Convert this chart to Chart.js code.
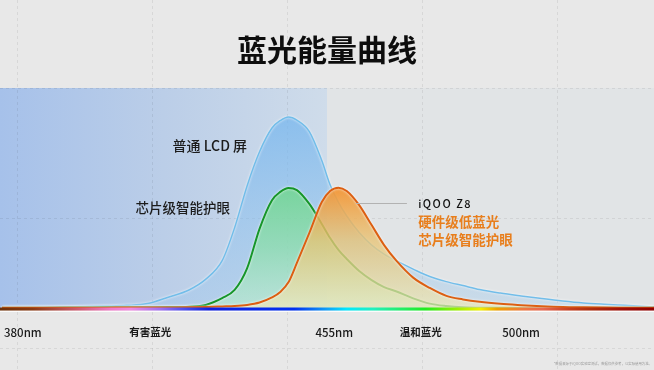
<!DOCTYPE html>
<html>
<head>
<meta charset="utf-8">
<script src="https://cdn.jsdelivr.net/npm/chart.js@4"></script>
<style>
html,body{margin:0;padding:0;background:#e8e8e8;overflow:hidden}
#c{display:block}
</style>
</head>
<body>
<canvas id="c" width="654" height="370"></canvas>
<script>
// ---- data (wavelength in nm, relative energy 0-100) ----
const wavelengths = [375,380,385,390,395,400,405,410,415,420,424,428,431,434,437,440,442,444,446,449,452,454,456,458,461,464,467,470,474,478,482,486,490,495,500,505,510,515,520,525,532];
const lcdEnergy   = [0.1,0.2,0.3,0.5,0.7,0.9,1.2,2.0,4.9,8.2,13.0,21.5,36.5,55.5,71.0,81.8,85.2,86.8,85.4,80.2,67.0,56.0,48.0,41.8,34.3,28.6,24.5,21.4,17.7,14.3,12.0,10.2,8.4,6.8,5.5,4.3,3.2,2.3,1.7,1.2,0.5];
const chipEnergy  = [0.1,0.1,0.15,0.2,0.25,0.3,0.3,0.35,0.4,0.6,1.4,4.5,8.2,18.0,36.0,49.0,52.8,54.6,53.6,47.3,38.2,31.8,26.4,22.3,16.8,12.7,9.5,7.5,4.4,2.0,0.9,0.3,0.15,0.1,0.1,0.1,0.1,0.1,0.1,0.1,0.1];
const iqooEnergy  = [0.1,0.1,0.1,0.1,0.15,0.15,0.2,0.2,0.25,0.3,0.45,0.7,0.9,1.4,2.5,4.8,7.3,11.8,20.5,34.1,48.2,53.2,54.7,53.2,46.8,37.7,28.6,21.4,13.8,9.1,5.5,3.9,2.8,1.9,1.3,0.8,0.45,0.3,0.2,0.15,0.1];
const seriesNames = ['iQOO Z8 硬件级低蓝光', '芯片级智能护眼', '普通 LCD 屏'];
const tickWavelengths = [380, 410.7, 455, 475.8, 500];
const tickLabels = ['380nm', '有害蓝光', '455nm', '温和蓝光', '500nm'];
const harmfulEdgeNm = 453.25;

const FONT = "'Noto Sans CJK SC', 'Noto Sans', sans-serif";

function vGrad(topValue, stops, fallback) {
  return (c) => {
    const ch = c.chart;
    if (!ch.chartArea) return fallback;
    const ys = ch.scales.y;
    const g = ch.ctx.createLinearGradient(0, ys.getPixelForValue(topValue), 0, ys.getPixelForValue(0));
    stops.forEach(s => g.addColorStop(s[0], s[1]));
    return g;
  };
}

const bgPlugin = {
  id: 'bg',
  beforeDraw(chart) {
    const {ctx, chartArea: a, scales: {x}} = chart;
    const W = chart.width, H = chart.height;
    ctx.save();
    ctx.fillStyle = '#e8e8e8';
    ctx.fillRect(0, 0, W, H);
    const edge = x.getPixelForValue(harmfulEdgeNm);
    const g = ctx.createLinearGradient(a.left, 0, edge, 0);
    g.addColorStop(0, '#a6c1ea');
    g.addColorStop(0.5, '#bbcee8');
    g.addColorStop(1, '#cfdcea');
    ctx.fillStyle = g;
    ctx.fillRect(a.left, a.top, edge - a.left, a.bottom - a.top);
    ctx.fillStyle = '#e1e4e6';
    ctx.fillRect(edge, a.top, a.right - edge, a.bottom - a.top);
    // slide guide lines
    ctx.setLineDash([3, 3]);
    ctx.strokeStyle = 'rgba(0,0,0,0.07)';
    ctx.lineWidth = 1;
    for (let gx = 17; gx < W; gx += 135) {
      ctx.beginPath(); ctx.moveTo(gx + 0.5, 0); ctx.lineTo(gx + 0.5, H); ctx.stroke();
    }
    for (let gy = a.top; gy < H; gy += 130) {
      ctx.beginPath(); ctx.moveTo(0, gy + 0.5); ctx.lineTo(W, gy + 0.5); ctx.stroke();
    }
    ctx.restore();
  }
};

const haloPlugin = {
  id: 'halo',
  beforeDatasetDraw(chart) {
    chart.ctx.save();
    chart.ctx.shadowColor = 'rgba(255,255,255,0.95)';
    chart.ctx.shadowBlur = 2.5;
  },
  afterDatasetDraw(chart) {
    chart.ctx.restore();
  }
};

const overlayPlugin = {
  id: 'overlay',
  afterDatasetsDraw(chart) {
    const {ctx, chartArea: a, scales: {x, y}} = chart;
    const W = chart.width;
    ctx.save();
    // spectrum bar
    const sg = ctx.createLinearGradient(0, 0, W, 0);
    [[0,'#6e3208'],[0.05,'#8a3a12'],[0.12,'#d05a70'],[0.17,'#f07ac8'],[0.2,'#f08ae0'],[0.245,'#a070f0'],
     [0.28,'#5050ee'],[0.32,'#1020e0'],[0.45,'#0030f0'],[0.5,'#10a0f8'],[0.53,'#00e8ff'],[0.57,'#20f0c0'],
     [0.65,'#20ec20'],[0.7,'#a0f000'],[0.735,'#f4f000'],[0.76,'#f0a000'],[0.8,'#f07840'],[0.83,'#e86850'],
     [0.87,'#c84020'],[0.9,'#b03010'],[0.95,'#a01008'],[1,'#900000']].forEach(s => sg.addColorStop(s[0], s[1]));
    ctx.fillStyle = sg;
    ctx.fillRect(0, a.bottom - 0.5, W, 3.2);
    ctx.fillStyle = 'rgba(255,255,255,0.8)';
    ctx.fillRect(0, a.bottom + 2.7, W, 1.3);

    // left labels
    ctx.fillStyle = '#1c1c1c';
    ctx.textBaseline = 'middle';
    ctx.textAlign = 'right';
    ctx.font = '500 14px ' + FONT;
    ctx.fillText(seriesNames[2], x.getPixelForValue(434), y.getPixelForValue(74));
    ctx.font = '500 13.5px ' + FONT;
    ctx.fillText(seriesNames[1], x.getPixelForValue(429.9), y.getPixelForValue(45.5));

    // leader line + right labels
    const ly = Math.round(y.getPixelForValue(47.7)) + 0.5;
    ctx.strokeStyle = '#b2b2b2';
    ctx.lineWidth = 1;
    ctx.beginPath();
    ctx.moveTo(x.getPixelForValue(460.2), ly);
    ctx.lineTo(x.getPixelForValue(472.5), ly);
    ctx.stroke();
    ctx.textAlign = 'left';
    const tx = x.getPixelForValue(475.2);
    ctx.fillStyle = '#111';
    ctx.font = '500 11px ' + FONT;
    ctx.letterSpacing = '1.5px';
    ctx.fillText('iQOO Z8', tx, ly);
    ctx.letterSpacing = '0px';
    ctx.fillStyle = '#e87e1c';
    ctx.font = 'bold 13.5px ' + FONT;
    ctx.fillText('硬件级低蓝光', tx, y.getPixelForValue(39.1));
    ctx.fillText('芯片级智能护眼', tx, y.getPixelForValue(30.9));

    // footnote
    ctx.fillStyle = '#9a9a9a';
    ctx.textAlign = 'right';
    ctx.font = '3.4px ' + FONT;
    ctx.fillText('*数据来源于iQOO实验室测试，数据仅供参考，以实际使用为准。', W - 2, 364);
    ctx.restore();
  }
};

const toPoints = (vals) => wavelengths.map((w, i) => ({x: w, y: vals[i]}));

new Chart(document.getElementById('c'), {
  type: 'line',
  data: {
    datasets: [
      {
        label: seriesNames[0],
        data: toPoints(iqooEnergy),
        borderColor: '#dc5f12',
        borderWidth: 2,
        fill: 'origin',
        backgroundColor: vGrad(55, [[0,'rgba(244,146,46,0.92)'],[0.45,'rgba(232,196,118,0.78)'],[1,'rgba(236,232,186,0.72)']], 'rgba(240,170,80,0.8)'),
        order: 1
      },
      {
        label: seriesNames[1],
        data: toPoints(chipEnergy),
        borderColor: '#16962a',
        borderWidth: 2,
        fill: 'origin',
        backgroundColor: vGrad(55, [[0,'rgba(112,214,142,0.85)'],[0.5,'rgba(140,222,170,0.75)'],[1,'rgba(185,236,205,0.6)']], 'rgba(140,220,170,0.8)'),
        order: 2
      },
      {
        label: seriesNames[2],
        data: toPoints(lcdEnergy),
        borderColor: '#72bde9',
        borderWidth: 1.5,
        fill: 'origin',
        backgroundColor: vGrad(90, [[0,'rgba(118,182,238,0.78)'],[1,'rgba(150,198,238,0.3)']], 'rgba(130,190,238,0.5)'),
        order: 3
      }
    ]
  },
  options: {
    responsive: false,
    animation: false,
    devicePixelRatio: 1,
    layout: {padding: 0},
    elements: {
      point: {radius: 0, hoverRadius: 0},
      line: {cubicInterpolationMode: 'monotone'}
    },
    plugins: {
      legend: {display: false},
      tooltip: {enabled: false},
      title: {
        display: true,
        text: '蓝光能量曲线',
        color: '#0d0d0d',
        font: {family: FONT, size: 30, weight: 'bold', lineHeight: 1.2},
        padding: {top: 31.5, bottom: 20.5}
      }
    },
    scales: {
      x: {
        type: 'linear',
        min: 374.5,
        max: 532,
        grid: {display: true, drawOnChartArea: false, color: 'rgba(0,0,0,0)', tickLength: 18},
        border: {display: false},
        afterBuildTicks: (axis) => { axis.ticks = tickWavelengths.map(v => ({value: v})); },
        afterFit: (axis) => { axis.height = 62; },
        ticks: {
          autoSkip: false,
          maxRotation: 0,
          minRotation: 0,
          padding: 0,
          color: '#1a1a1a',
          callback: (v, i) => tickLabels[i],
          font: (c) => (c.index % 2 === 1)
            ? {family: FONT, size: 10.5, weight: 'bold'}
            : {family: FONT, size: 11.5, weight: '500'}
        }
      },
      y: {display: false, min: 0, max: 100}
    }
  },
  plugins: [bgPlugin, haloPlugin, overlayPlugin]
});
</script>
</body>
</html>
